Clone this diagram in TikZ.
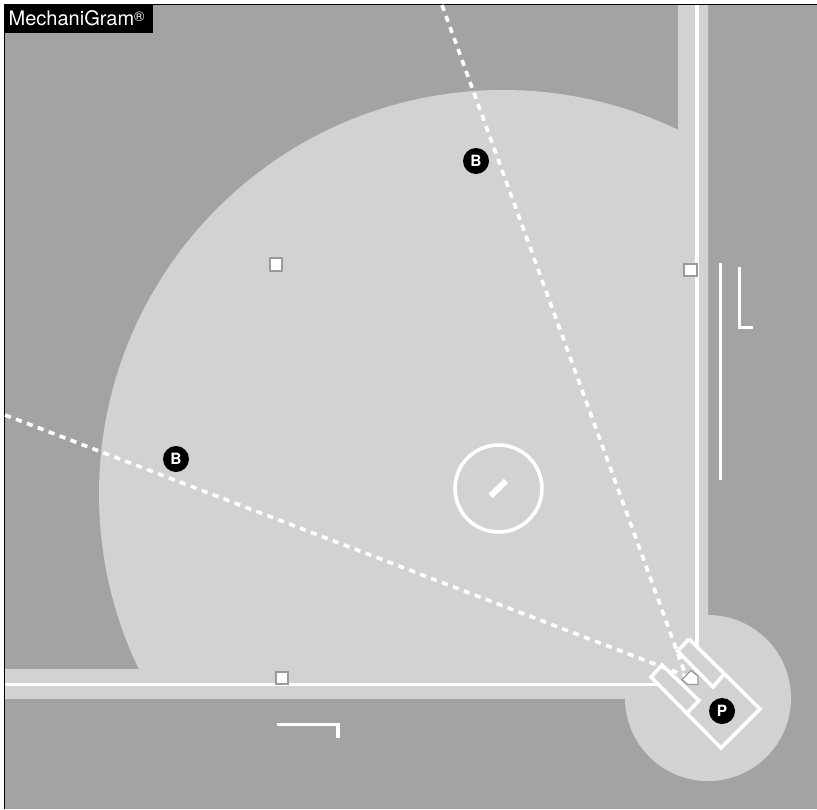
\documentclass[tikz,border=0pt]{standalone}
\usepackage{fontspec}
\setmainfont{TeX Gyre Heros}
\usepackage{xcolor}
\definecolor{fieldgray}{HTML}{D2D2D2}
\definecolor{turfgray}{HTML}{A3A3A3}
\definecolor{basegray}{HTML}{9A9A9A}

\begin{document}
\begin{tikzpicture}[
  x=1pt, y=-1pt,
  basebag/.style={rectangle, draw=basegray, fill=white, line width=1.6pt, minimum size=12.5pt, inner sep=0pt},
  player/.style={circle, fill=black, text=white, minimum size=26pt, inner sep=0pt, font=\fontsize{15.5}{15.5}\selectfont\bfseries},
  chalk/.style={draw=white, line width=3.6pt},
  coachmark/.style={draw=white, line width=3.2pt},
  guide/.style={draw=white, line width=3.6pt, dash pattern=on 6.2pt off 5.5pt}
]
\useasboundingbox (0,0) rectangle (817,809);

% ground
\fill[turfgray] (5,5) rectangle (817,809);
\begin{scope}
  \clip (5,5) rectangle (708,698);
  \fill[fieldgray] (503,494) circle (404pt) (678,0) rectangle (712,702) (0,669) rectangle (712,702);
\end{scope}
\fill[fieldgray] (708,698) circle (83pt);
\draw[black, line width=1pt] (4.5,809) -- (4.5,4.5) -- (817,4.5);

% foul lines and boxes
\coordinate (homespot) at (686,676);
\coordinate (rightpole) at (697,5);
\coordinate (leftpole) at (5,684.5);
\coordinate (rightend) at (697,647);
\coordinate (leftend) at (657,684.5);
\draw[chalk] (rightpole) -- (rightend);
\draw[chalk] (leftpole) -- (leftend);
\coordinate (centerdeep) at (442,5);
\coordinate (leftdeep) at (5,415);
\draw[guide] (centerdeep) -- (homespot);
\draw[guide] (leftdeep) -- (homespot);

\draw[chalk, line join=miter] (689,639) -- (760,709) -- (721,748) -- (651,677) -- (662,665) -- (699,700.5) -- (688,712);
\draw[chalk, line join=miter] (723,675.5) -- (713,687) -- (677.5,651) -- (689,639);

\draw[draw=basegray, fill=white, line width=1.3pt, line join=round] (691,670.5) -- (698,676) -- (698,684.5) -- (687.5,684.5) -- (682,679.5) -- cycle;

% mound
\node[circle, draw=white, line width=3.6pt, minimum size=87pt, inner sep=0pt] (mound) at (498.5,488.5) {};
\draw[draw=white, line width=6pt] (490.5,496) -- (506,481);

% bases
\node[basebag] (secondbag) at (276,264.5) {};
\node[basebag] (firstbag) at (690.5,270) {};
\node[basebag] (thirdbag) at (282,678) {};

% coach marks
\draw[coachmark] (720.5,263) -- (720.5,480);
\draw[coachmark, line join=miter] (739.5,267) -- (739.5,327.5) -- (753,327.5);
\draw[coachmark, line join=miter] (277,724.5) -- (338,724.5) -- (338,738);

% players
\node[player] (battertop) at (476,161) {B};
\node[player] (batterleft) at (176,459) {B};
\node[player] (pitcher) at (722,711) {P};

% title
\fill[black] (5,5) rectangle (153,33);
\node[text=white, anchor=west, inner sep=0pt, font=\fontsize{20}{20}\selectfont] (brand) at (8.5,18.5) {MechaniGram\raisebox{4pt}{\fontsize{14}{14}\selectfont ®}};
\end{tikzpicture}
\end{document}
